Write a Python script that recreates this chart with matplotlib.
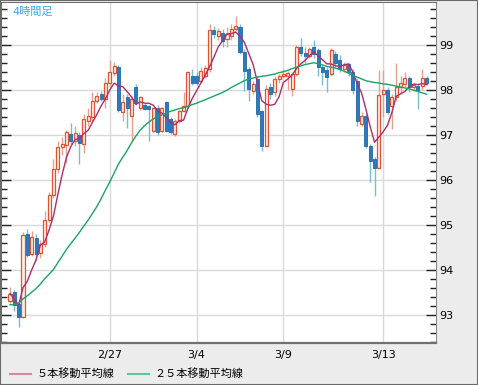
import matplotlib
matplotlib.use('Agg')
import matplotlib.pyplot as plt
from matplotlib.lines import Line2D
from matplotlib.patches import Rectangle
from matplotlib.ticker import MultipleLocator
import numpy as np
import pandas as pd

plt.rcParams['font.family'] = ['DejaVu Sans', 'Noto Sans CJK JP']

# 4時間足 (読み取り値)
opens = [93.30, 93.50, 93.24, 92.95, 94.80, 94.35, 94.70, 94.38, 94.58, 95.10,
         95.66, 96.24, 96.72, 96.78, 97.02, 96.86, 97.00, 96.80, 97.30, 97.40,
         97.76, 97.90, 97.80, 98.15, 98.38, 98.50, 97.50, 97.83, 97.42, 98.05,
         97.60, 97.65, 97.64, 97.09, 97.60, 97.09, 97.72, 97.36, 97.02, 97.31,
         97.53, 97.64, 98.31, 98.31, 98.20, 98.30, 98.46, 99.33, 99.20, 99.27,
         99.13, 99.20, 99.36, 99.40, 98.83, 98.46, 97.98, 98.24, 97.53, 96.76,
         98.06, 97.94, 98.24, 98.30, 98.30, 98.02, 98.35, 98.94, 98.82, 98.75,
         98.96, 98.88, 98.50, 98.44, 98.36, 98.80, 98.66, 98.46, 98.57, 98.39,
         98.20, 97.24, 97.42, 96.76, 96.47, 96.26, 97.90, 98.00, 97.64, 97.83,
         98.06, 98.13, 98.27, 98.05, 98.08, 98.09, 98.26]
highs = [93.62, 93.55, 93.28, 94.84, 94.90, 94.85, 94.80, 94.66, 95.30, 95.72,
         96.47, 96.85, 96.95, 97.10, 97.27, 97.20, 97.05, 97.45, 97.60, 97.95,
         97.95, 97.97, 98.25, 98.67, 98.62, 98.55, 97.90, 97.90, 97.85, 98.13,
         97.87, 97.70, 97.66, 97.62, 97.65, 97.62, 97.75, 97.40, 97.35, 97.56,
         97.94, 98.42, 98.45, 98.40, 98.50, 98.55, 99.46, 99.42, 99.38, 99.35,
         99.40, 99.45, 99.64, 99.45, 98.90, 98.50, 98.20, 98.30, 97.55, 98.10,
         98.15, 98.30, 98.35, 98.45, 98.42, 98.40, 99.00, 99.16, 98.95, 98.95,
         99.10, 98.92, 98.55, 98.50, 98.92, 98.85, 98.78, 98.62, 98.60, 98.45,
         98.25, 97.50, 97.45, 96.80, 96.50, 98.44, 98.44, 98.05, 97.90, 98.60,
         98.30, 98.40, 98.30, 98.15, 98.12, 98.45, 98.30]
lows = [93.25, 93.09, 92.73, 92.92, 94.28, 94.30, 94.20, 94.25, 94.50, 95.05,
        95.60, 96.15, 96.55, 96.38, 96.80, 96.75, 96.36, 96.60, 97.20, 97.30,
        97.70, 97.75, 97.60, 98.05, 98.30, 97.50, 97.30, 97.16, 96.87, 97.65,
        97.55, 97.55, 96.87, 97.05, 97.00, 97.05, 97.05, 97.02, 96.98, 97.25,
        97.50, 97.60, 98.10, 98.10, 98.15, 98.25, 98.40, 99.15, 99.10, 98.95,
        98.95, 99.10, 99.30, 98.80, 97.98, 97.76, 97.90, 97.40, 96.64, 96.72,
        97.80, 97.85, 98.15, 98.25, 98.00, 97.85, 98.30, 98.75, 98.60, 98.70,
        98.70, 98.30, 98.10, 97.94, 98.30, 98.50, 98.40, 98.40, 98.30, 97.90,
        97.20, 97.20, 96.70, 95.94, 95.64, 96.24, 97.40, 97.45, 97.13, 97.75,
        97.90, 98.05, 97.95, 97.98, 97.58, 98.00, 98.10]
closes = [93.47, 93.22, 92.95, 94.76, 94.32, 94.72, 94.35, 94.58, 95.10, 95.66,
          96.24, 96.72, 96.80, 97.05, 96.86, 97.03, 96.82, 97.36, 97.42, 97.76,
          97.87, 97.80, 98.15, 98.40, 98.52, 97.55, 97.72, 97.60, 97.80, 97.70,
          97.83, 97.58, 97.58, 97.60, 97.05, 97.60, 97.09, 97.05, 97.31, 97.53,
          97.64, 98.39, 98.16, 98.16, 98.42, 98.49, 99.33, 99.24, 99.30, 99.09,
          99.24, 99.36, 99.42, 98.83, 98.42, 98.02, 98.13, 97.46, 96.76, 98.02,
          97.90, 98.24, 98.30, 98.36, 98.38, 98.35, 98.96, 98.82, 98.75, 98.90,
          98.79, 98.51, 98.39, 98.29, 98.88, 98.59, 98.46, 98.55, 98.39, 97.99,
          97.30, 97.42, 96.76, 96.42, 96.26, 97.89, 98.00, 97.50, 97.83, 98.06,
          98.15, 98.27, 98.05, 98.10, 98.00, 98.26, 98.16]

# 25本移動平均線 (画面から読み取り)
ma25 = [93.22, 93.22, 93.25, 93.35, 93.42, 93.50, 93.58, 93.68, 93.80, 93.90,
        94.00, 94.15, 94.30, 94.45, 94.58, 94.70, 94.83, 94.97, 95.10, 95.25,
        95.40, 95.58, 95.77, 95.95, 96.15, 96.35, 96.50, 96.65, 96.82, 96.97,
        97.10, 97.20, 97.28, 97.35, 97.40, 97.44, 97.48, 97.52, 97.55, 97.58,
        97.60, 97.63, 97.67, 97.70, 97.74, 97.78, 97.82, 97.86, 97.90, 97.94,
        97.99, 98.05, 98.10, 98.15, 98.20, 98.24, 98.26, 98.28, 98.30, 98.31,
        98.33, 98.35, 98.38, 98.40, 98.43, 98.47, 98.50, 98.53, 98.56, 98.58,
        98.60, 98.58, 98.55, 98.52, 98.50, 98.48, 98.45, 98.41, 98.37, 98.32,
        98.28, 98.24, 98.20, 98.18, 98.16, 98.15, 98.13, 98.12, 98.10, 98.08,
        98.06, 98.04, 98.02, 97.99, 97.96, 97.93, 97.90]

tick_idx = [23, 43, 63, 86]
tick_labels = ['2/27', '3/4', '3/9', '3/13']

df = pd.DataFrame({'o': opens, 'h': highs, 'l': lows, 'c': closes})
df['ma5'] = df['c'].rolling(5, min_periods=1).mean()
x = np.arange(len(df))
up = df['c'] >= df['o']
dn = ~up

fig = plt.figure(figsize=(4.78, 3.85), dpi=100, facecolor='#ececec')
ax = fig.add_axes([1 / 478, 1 - 343 / 385, 435 / 478, 341 / 385])
ax.set_facecolor('white')

# ヒゲ
ax.vlines(x[up], df['l'][up], df['h'][up], color='#e8a08c', lw=1, zorder=2)
ax.vlines(x[dn], df['l'][dn], df['h'][dn], color='#78bcd8', lw=1, zorder=2)

# 実体
body_lo = np.minimum(df['o'], df['c'])
body_h = np.maximum(np.abs(df['c'] - df['o']), 0.02)
ax.bar(x[up], body_h[up], bottom=body_lo[up], width=0.7,
       color='#fdeee6', edgecolor='#dd5530', lw=0.9, zorder=3)
ax.bar(x[dn], body_h[dn], bottom=body_lo[dn], width=0.7,
       color='#2a7cc0', edgecolor='#2266a6', lw=0.6, zorder=3)

ax.plot(x, df['ma5'], color='#b02c6c', lw=1, zorder=4)
ax.plot(x, ma25, color='#1aa464', lw=1, zorder=4)

ax.set_xlim(-2.07, 98.16)
ax.set_ylim(92.37, 99.95)
ax.set_yticks(range(93, 100))
ax.yaxis.set_minor_locator(MultipleLocator(0.2))
ax.set_xticks(tick_idx)
ax.set_xticklabels(tick_labels)
ax.grid(True, which='major', color='#d9d9d9', lw=1, zorder=0)
ax.set_axisbelow(True)

ax.tick_params(axis='y', which='both', direction='in', left=True, right=True,
               labelleft=False, labelright=True, color='#222222', width=1)
ax.tick_params(axis='y', which='major', length=7, labelsize=8, pad=2)
ax.tick_params(axis='y', which='minor', length=4)
ax.tick_params(axis='x', length=0, labelsize=8, pad=5)

for s in ['left', 'top']:
    ax.spines[s].set_color('#707070')
ax.spines['right'].set_color('#8a8a8a')
ax.spines['bottom'].set_color('#707070')
ax.spines['bottom'].set_linewidth(1.6)

ax.text(11 / 435, 1 - 10 / 341, '4時間足', transform=ax.transAxes,
        color='#3aaaf0', fontsize=8, va='center', ha='left')

handles = [Line2D([], [], color='#d486a6', lw=1.5),
           Line2D([], [], color='#58cc98', lw=1.5)]
fig.legend(handles, ['５本移動平均線', '２５本移動平均線'], loc='center left',
           bbox_to_anchor=(10 / 478, 11 / 385), ncol=2, frameon=False,
           fontsize=8, handlelength=1.9, handletextpad=0.5,
           columnspacing=1.2, borderpad=0, borderaxespad=0)

fig.add_artist(Rectangle((0, 0), 1, 1, transform=fig.transFigure, fill=False,
                         edgecolor='#6a6a6a', lw=1.5))

fig.savefig('out.png', dpi=100)
